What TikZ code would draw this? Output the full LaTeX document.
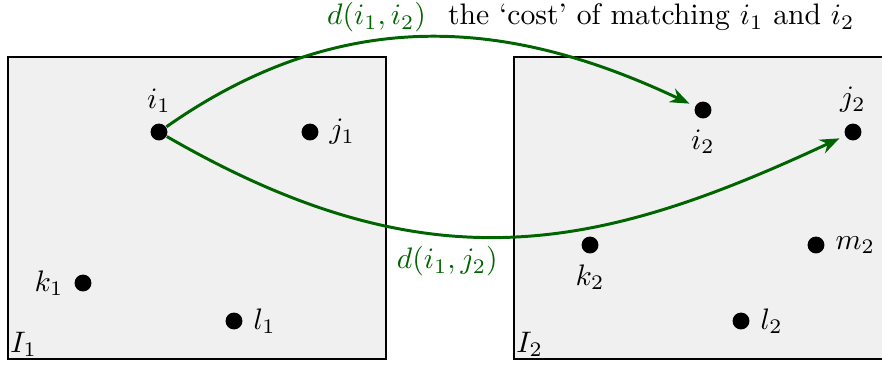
\documentclass[tikz,border=0pt]{standalone}
\usepackage{amsmath}
\usetikzlibrary{positioning,arrows.meta}
\definecolor{costgreen}{RGB}{0,100,0}

\begin{document}
\begin{tikzpicture}[x=0.1185cm, y=0.1185cm,
    pt/.style={circle, fill=black, inner sep=0pt, minimum size=5.7pt},
    region/.style={draw, line width=0.7pt, fill=black!6, minimum width=4.48cm, minimum height=3.58cm},
    cost/.style={->, >={Stealth[length=6.5pt,width=5pt]}, costgreen, line width=1pt, shorten >=2pt}]
    \useasboundingbox (0,0) rectangle (88.2,36.5);

    % the two instances
    \node[region] (box1) at (19.7,15.7) {};
    \node[region] (box2) at (70.3,15.7) {};
    \node[anchor=south west, inner sep=1pt] (I1) at (box1.south west) {$I_1$};
    \node[anchor=south west, inner sep=1pt] (I2) at (box2.south west) {$I_2$};

    % points of I_1
    \node[pt, label=above:$i_1$] (i1) at (15.9,23.3) {};
    \node[pt, label=right:$j_1$] (j1) at (31.0,23.3) {};
    \node[pt, label=left:$k_1$] (k1) at (8.3,8.2) {};
    \node[pt, label=right:$l_1$] (l1) at (23.4,4.4) {};

    % points of I_2
    \node[pt, label=below:$i_2$] (i2) at (70.3,25.5) {};
    \node[pt, label=above:$j_2$] (j2) at (85.3,23.3) {};
    \node[pt, label=below:$k_2$] (k2) at (59.0,12.0) {};
    \node[pt, label=right:$m_2$] (m2) at (81.6,12.0) {};
    \node[pt, label=right:$l_2$] (l2) at (74.1,4.4) {};

    % matching costs
    \draw[cost] (i1) .. controls (35.7,37.2) and (53.0,33.65) ..
        node[pos=0.38, above=-1pt] (d12) {$d(i_1,i_2)$} (i2);
    \node[base right=0.1pt of d12] (txt) {the `cost' of matching $i_1$ and $i_2$};
    \draw[cost] (i1) .. controls (42.9,7.7) and (59.7,11.35) ..
        node[pos=0.4, below] (d1j) {$d(i_1,j_2)$} (j2);
\end{tikzpicture}
\end{document}
